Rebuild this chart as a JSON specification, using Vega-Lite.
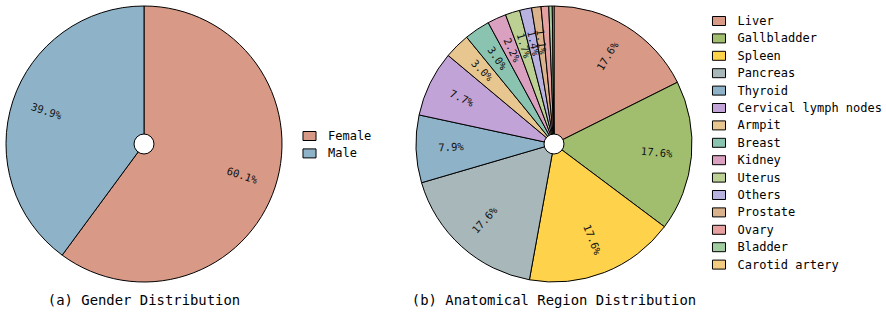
{
  "$schema": "https://vega.github.io/schema/vega-lite/v6.json",
  "background": "white",
  "padding": {"left": 4, "top": 4, "right": 0, "bottom": 0},
  "bounds": "flush",
  "spacing": 134,
  "resolve": {"scale": {"color": "independent", "theta": "independent"}, "legend": {"color": "independent"}},
  "config": {
    "view": {"stroke": null},
    "font": "DejaVu Sans Mono",
    "legend": {
      "title": null,
      "orient": "none",
      "padding": 0,
      "labelFont": "DejaVu Sans Mono",
      "labelFontSize": 12,
      "labelColor": "#000",
      "symbolType": "M-1.45,-1H1.45V1H-1.45Z",
      "symbolSize": 81,
      "symbolStrokeColor": "#000",
      "symbolStrokeWidth": 1,
      "symbolOpacity": 1,
      "rowPadding": 3.4,
      "labelOffset": 12.5
    },
    "title": {
      "orient": "bottom",
      "anchor": "middle",
      "frame": "group",
      "offset": 10,
      "font": "DejaVu Sans Mono",
      "fontSize": 13.9,
      "fontWeight": "normal",
      "color": "#000"
    }
  },
  "hconcat": [
    {
      "width": 276,
      "height": 276,
      "title": {"text": "(a) Gender Distribution"},
      "data": {
        "values": [
          {"gender": "Female", "share": 0.601},
          {"gender": "Male", "share": 0.399}
        ]
      },
      "transform": [
        {"window": [{"op": "row_number", "as": "idx"}]},
        {"window": [{"op": "sum", "field": "share", "as": "cum"}], "sort": [{"field": "idx"}], "frame": [null, 0]},
        {"joinaggregate": [{"op": "sum", "field": "share", "as": "total"}]},
        {"calculate": "(datum.cum - datum.share / 2) / datum.total * 360", "as": "mid"},
        {"calculate": "datum.mid < 180 ? datum.mid - 90 : datum.mid - 270", "as": "ang"}
      ],
      "layer": [
        {
          "mark": {"type": "arc", "outerRadius": 138, "stroke": "#000", "strokeWidth": 1},
          "encoding": {
            "theta": {"field": "share", "type": "quantitative", "stack": true},
            "order": {"field": "idx", "type": "quantitative"},
            "color": {
              "field": "gender",
              "type": "nominal",
              "sort": null,
              "scale": {"domain": ["Female", "Male"], "range": ["#D99987", "#8EB2C8"]},
              "legend": {"legendX": 297.5, "legendY": 124}
            }
          }
        },
        {
          "mark": {"type": "text", "radius": 103, "fontSize": 10.5, "font": "DejaVu Sans Mono", "color": "#111"},
          "encoding": {
            "theta": {"field": "share", "type": "quantitative", "stack": true},
            "order": {"field": "idx", "type": "quantitative"},
            "detail": {"field": "gender", "type": "nominal"},
            "text": {"field": "share", "type": "quantitative", "format": ".1%"},
            "angle": {"field": "ang", "type": "quantitative", "scale": null}
          }
        },
        {
          "data": {"values": [{"hub": "centre"}]},
          "mark": {"type": "point", "shape": "circle", "size": 400, "filled": true, "fill": "white", "stroke": "#000", "strokeWidth": 1, "opacity": 1},
          "encoding": {}
        }
      ]
    },
    {
      "width": 276,
      "height": 276,
      "title": {"text": "(b) Anatomical Region Distribution"},
      "data": {
        "values": [
          {"region": "Liver", "share": 0.176},
          {"region": "Gallbladder", "share": 0.176},
          {"region": "Spleen", "share": 0.176},
          {"region": "Pancreas", "share": 0.176},
          {"region": "Thyroid", "share": 0.079},
          {"region": "Cervical lymph nodes", "share": 0.077},
          {"region": "Armpit", "share": 0.030},
          {"region": "Breast", "share": 0.030},
          {"region": "Kidney", "share": 0.022},
          {"region": "Uterus", "share": 0.017},
          {"region": "Others", "share": 0.014},
          {"region": "Prostate", "share": 0.011},
          {"region": "Ovary", "share": 0.009},
          {"region": "Bladder", "share": 0.004},
          {"region": "Carotid artery", "share": 0.002}
        ]
      },
      "transform": [
        {"window": [{"op": "row_number", "as": "idx"}]},
        {"window": [{"op": "sum", "field": "share", "as": "cum"}], "sort": [{"field": "idx"}], "frame": [null, 0]},
        {"joinaggregate": [{"op": "sum", "field": "share", "as": "total"}]},
        {"calculate": "(datum.cum - datum.share / 2) / datum.total * 360", "as": "mid"},
        {"calculate": "datum.mid < 180 ? datum.mid - 90 : datum.mid - 270", "as": "ang"}
      ],
      "layer": [
        {
          "mark": {"type": "arc", "outerRadius": 138, "stroke": "#000", "strokeWidth": 1},
          "encoding": {
            "theta": {"field": "share", "type": "quantitative", "stack": true},
            "order": {"field": "idx", "type": "quantitative"},
            "color": {
              "field": "region",
              "type": "nominal",
              "sort": null,
              "scale": {
                "domain": ["Liver", "Gallbladder", "Spleen", "Pancreas", "Thyroid", "Cervical lymph nodes", "Armpit", "Breast", "Kidney", "Uterus", "Others", "Prostate", "Ovary", "Bladder", "Carotid artery"],
                "range": ["#D99987", "#A0BE6E", "#FFD24B", "#A8B8BA", "#8EB2C8", "#C2A3D8", "#E8C68F", "#8AC4B0", "#D9A0C0", "#BCD094", "#B8B2E1", "#DAB28C", "#E6A0A0", "#A0CCA0", "#F2CC80"]
              },
              "legend": {"legendX": 297, "legendY": 9}
            }
          }
        },
        {
          "mark": {"type": "text", "radius": 103, "fontSize": 10.5, "font": "DejaVu Sans Mono", "color": "#111"},
          "encoding": {
            "theta": {"field": "share", "type": "quantitative", "stack": true},
            "order": {"field": "idx", "type": "quantitative"},
            "detail": {"field": "region", "type": "nominal"},
            "text": {
              "condition": {"test": "datum.share < 0.01", "value": ""},
              "field": "share",
              "type": "quantitative",
              "format": ".1%"
            },
            "angle": {"field": "ang", "type": "quantitative", "scale": null}
          }
        },
        {
          "data": {"values": [{"hub": "centre"}]},
          "mark": {"type": "point", "shape": "circle", "size": 400, "filled": true, "fill": "white", "stroke": "#000", "strokeWidth": 1, "opacity": 1},
          "encoding": {}
        }
      ]
    }
  ]
}
